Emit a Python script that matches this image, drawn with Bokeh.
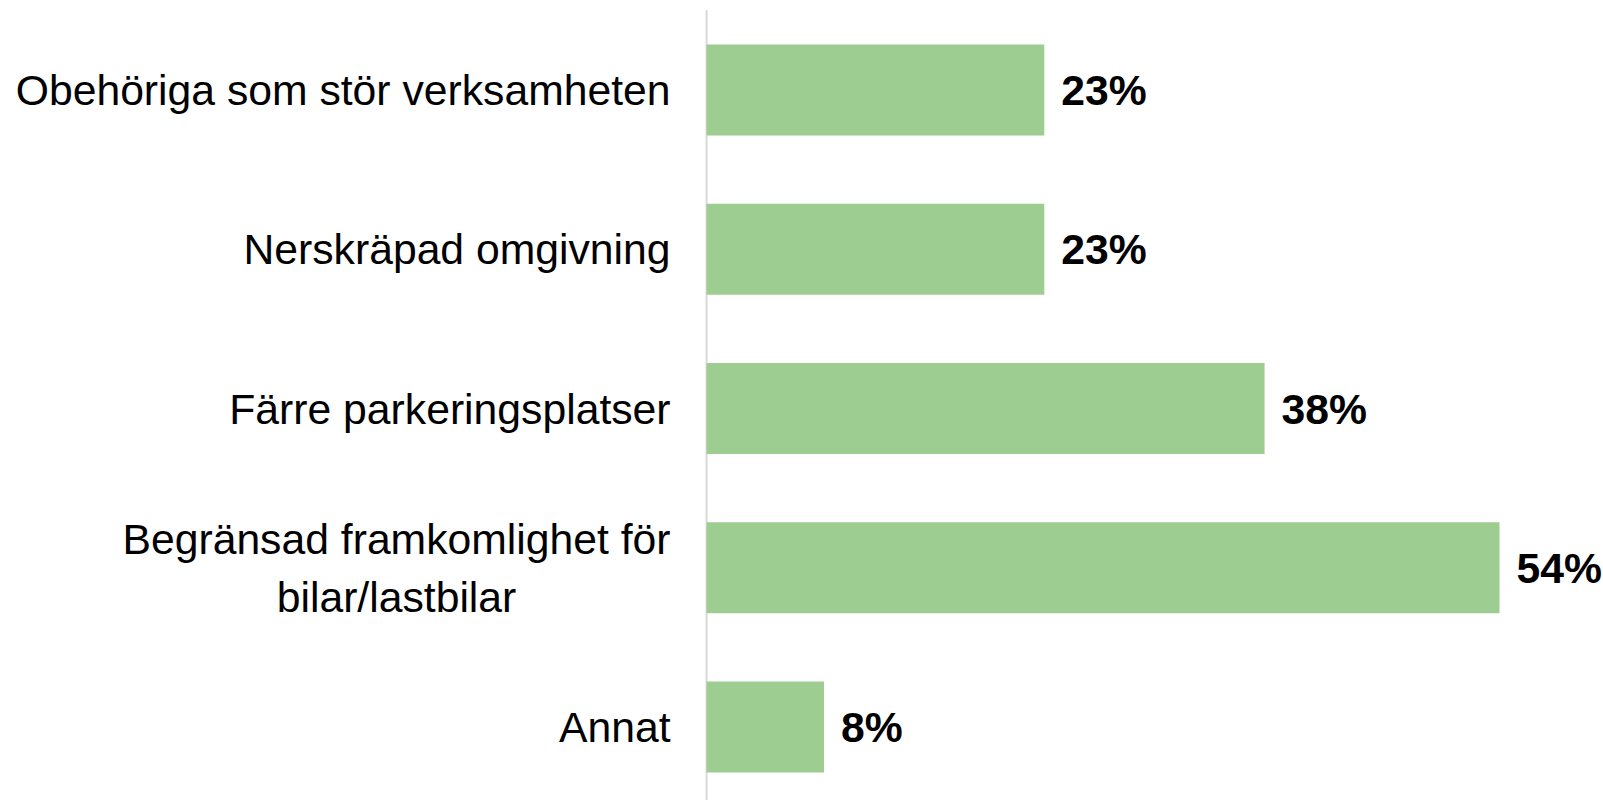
from bokeh.plotting import figure
from bokeh.models import ColumnDataSource, Range1d
from bokeh.core.properties import value
from bokeh.embed import file_html
from bokeh.resources import INLINE

categories = [
    "Obehöriga som stör verksamheten",
    "Nerskräpad omgivning",
    "Färre parkeringsplatser",
    "Begränsad framkomlighet för\nbilar/lastbilar",
    "Annat",
]
values = [23, 23, 38, 54, 8]
value_labels = ["23%", "23%", "38%", "54%", "8%"]

ypos = list(range(len(categories)))
src = ColumnDataSource(dict(y=ypos, v=values, lab=value_labels, cat=categories,
                            zero=[0] * len(categories)))

p = figure(width=1603, height=800, output_backend="svg", toolbar_location=None,
           x_range=Range1d(-48.08, 61.08), y_range=Range1d(4.4615, -0.562),
           x_axis_location=None, y_axis_location=None, min_border=0)
p.outline_line_color = None
p.xgrid.visible = False
p.ygrid.visible = False

# vertical axis line
p.segment(x0=0, y0=-0.5, x1=0, y1=len(categories) + 1, line_color="#d9d9d9", line_width=2)

p.hbar(y="y", left="zero", right="v", height=0.571, source=src,
       fill_color="#9ecd91", line_color=None)

p.text(x="v", y="y", text="lab", source=src, x_offset=17,
       text_align="left", text_baseline="middle",
       text_font=value("Liberation Sans"), text_font_style="bold",
       text_font_size="42.7px", text_color="#000000")

p.text(x="zero", y="y", text="cat", source=src, x_offset=-36,
       text_align="center", anchor="center_right", text_baseline="middle",
       text_font=value("Liberation Sans"), text_font_size="42.7px",
       text_color="#000000", text_line_height=1.2)

open("out.html", "w").write(file_html(p, INLINE))
